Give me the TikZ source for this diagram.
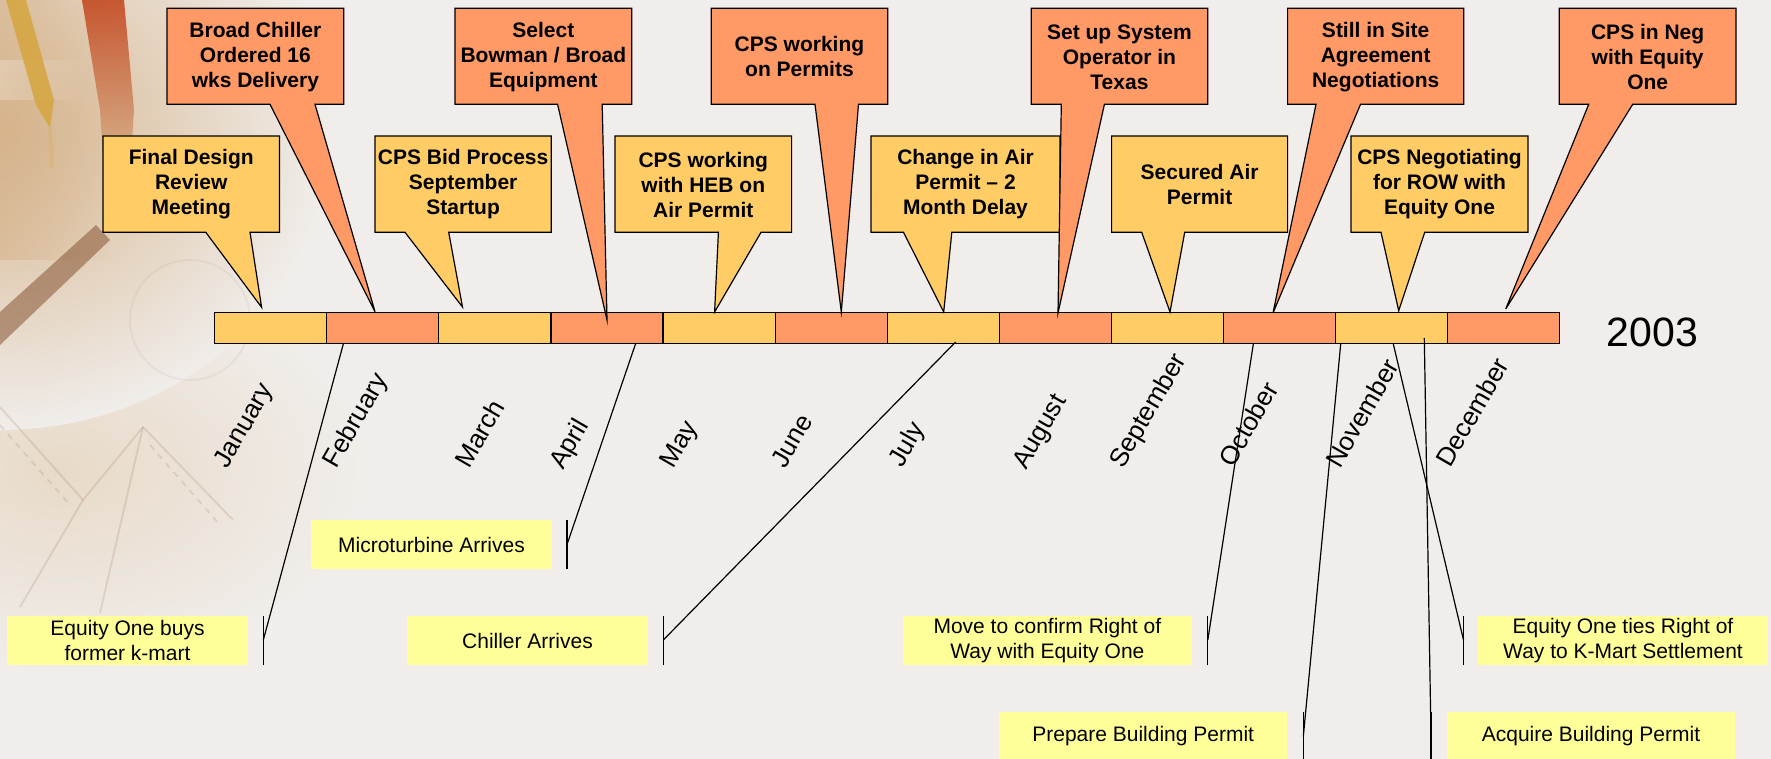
\documentclass[tikz,border=0pt]{standalone}
\usepackage{fontspec}
\setmainfont{Liberation Sans}
\setsansfont{Liberation Sans}
\usetikzlibrary{fadings}
\definecolor{bgc}{RGB}{240,237,234}
\definecolor{orangeC}{RGB}{255,153,102}
\definecolor{yellowC}{RGB}{255,204,102}
\definecolor{noteC}{RGB}{255,255,153}
\definecolor{tanC}{RGB}{214,180,140}
\definecolor{creamC}{RGB}{232,218,200}
\definecolor{redP}{RGB}{196,74,34}
\definecolor{yelP}{RGB}{214,165,62}
\definecolor{brownP}{RGB}{135,85,52}
\tikzfading[name=fadeR, left color=transparent!0, right color=transparent!100]
\tikzset{
  callout/.style={draw=black, line width=0.6pt, line join=miter},
  ctext/.style={align=center, font=\bfseries\fontsize{10.5}{12.5}\selectfont, inner sep=0pt},
  note/.style={fill=noteC, draw=none, align=center, inner sep=0pt, font=\fontsize{10.5}{12.35}\selectfont},
  seg/.style={draw=black, line width=0.6pt, minimum width=56.05pt, minimum height=15.5pt, inner sep=0pt},
  month/.style={rotate=60, anchor=base west, inner sep=0pt, font=\fontsize{13}{15}\selectfont},
  conn/.style={draw=black, line width=0.6pt},
  sketch/.style={draw=brownP, opacity=0.16, line width=0.9pt},
}
% top-row callout: name, x1, x2, base1, base2, tipx, tipy, text
\newcommand\coT[8]{%
  \coordinate (#1-tip) at (#6,#7);
  \filldraw[callout, fill=orangeC] (#2,8.3) -- (#3,8.3) -- (#3,104.3) -- (#5,104.3) -- (#1-tip) -- (#4,104.3) -- (#2,104.3) -- cycle;
  \node[ctext] (#1) at ({(#2+#3)/2},56.8) {#8};
}
% middle-row callout
\newcommand\coM[8]{%
  \coordinate (#1-tip) at (#6,#7);
  \filldraw[callout, fill=yellowC] (#2,136) -- (#3,136) -- (#3,232.3) -- (#5,232.3) -- (#1-tip) -- (#4,232.3) -- (#2,232.3) -- cycle;
  \node[ctext] (#1) at ({(#2+#3)/2},184.5) {#8};
}
% connector: name, topx, topy, tickx, ticktop, tickbot, joiny
\newcommand\conn[7]{%
  \coordinate (#1-a) at (#2,#3);
  \coordinate (#1-b) at (#4,#7);
  \coordinate (#1-t1) at (#4,#5);
  \coordinate (#1-t2) at (#4,#6);
  \draw[conn] (#1-a) -- (#1-b);
  \draw[conn] (#1-t1) -- (#1-t2);
}
\begin{document}
\begin{tikzpicture}[x=0.5pt,y=-0.5pt]
\useasboundingbox (0,0) rectangle (1771,759);
% background
\fill[bgc] (0,0) rectangle (1771,759);
\shade[inner color=creamC, outer color=bgc] (60,470) ellipse [x radius=300, y radius=200];
\shade[inner color=tanC, outer color=bgc] (0,130) ellipse [x radius=330, y radius=300];
\fill[tanC, opacity=0.6, path fading=fadeR] (0,0) rectangle (110,260);
\fill[white, opacity=0.25, path fading=fadeR] (0,60) rectangle (90,100);
\fill[yelP, opacity=0.85] (6,0) -- (26,0) -- (54,100) -- (50,128) -- (36,105) -- cycle;
\draw[yelP, opacity=0.2, line width=2pt] (50,128) -- (52,168);
\shade[top color=redP, bottom color=tanC, opacity=0.9] (82,0) -- (124,0) -- (134,110) -- (130,172) -- (104,172) -- (100,110) -- cycle;
\fill[brownP, opacity=0.55] (96,225) -- (110,240) -- (0,345) -- (0,312) -- cycle;
\draw[sketch] (0,407) -- (83,500) -- (143,427) -- (233,520);
\draw[sketch, dashed] (0,425) -- (70,505);
\draw[sketch, dashed] (150,445) -- (220,525);
\draw[sketch] (143,427) -- (100,613);
\draw[sketch] (83,500) -- (20,607);
\draw[sketch, opacity=0.07] (190,320) circle (60);

% timeline bar
\foreach \n [count=\i from 0] in {jan,feb,mar,apr,may,jun,jul,aug,sep,oct,nov,dec}{
  \pgfmathtruncatemacro\odd{mod(\i,2)}
  \ifnum\odd=0
    \node[seg, fill=yellowC] (\n) at ({214.6+112.1*(\i+0.5)},328) {};
  \else
    \node[seg, fill=orangeC] (\n) at ({214.6+112.1*(\i+0.5)},328) {};
  \fi
}
\node[font=\fontsize{20.5}{24}\selectfont, inner sep=0pt] (year) at (1652.5,332.5) {2003};

% month labels
\node[month] (lJan) at (227,470) {January};
\node[month] (lFeb) at (336,470) {February};
\node[month] (lMar) at (469,470) {March};
\node[month] (lApr) at (563,471) {April};
\node[month] (lMay) at (673,470) {May};
\node[month] (lJun) at (785,470) {June};
\node[month] (lJul) at (902,469) {July};
\node[month] (lAug) at (1026,471) {August};
\node[month] (lSep) at (1123,470) {September};
\node[month] (lOct) at (1233,469) {October};
\node[month] (lNov) at (1340,470) {November};
\node[month] (lDec) at (1450,469) {December};

% middle-row callouts
\coM{design}{103}{279.5}{205.8}{250}{261.6}{307.3}{Final Design\\Review\\Meeting}
\coM{bid}{375}{551.3}{405}{448.7}{462.5}{307}{CPS Bid Process\\September\\Startup}
\coM{heb}{615}{791.6}{718.4}{761}{714.6}{312}{CPS working\\with HEB on\\Air Permit}
\coM{change}{871}{1060}{903.5}{951.8}{943.7}{312}{Change in Air\\Permit – 2\\Month Delay}
\coM{secured}{1111.6}{1287.6}{1141.7}{1184.7}{1170}{312}{Secured Air\\Permit}
\coM{row}{1351}{1528}{1381}{1424.7}{1398.7}{310.7}{CPS Negotiating\\for ROW with\\Equity One}

% top-row callouts
\coT{bchill}{167}{343.8}{270}{315}{375}{311.7}{Broad Chiller\\Ordered 16\\wks Delivery}
\coT{bowman}{455}{631.7}{557.6}{602.2}{607}{320}{Select\\Bowman / Broad\\Equipment}
\coT{permits}{711.2}{887.7}{815}{858.5}{841.3}{312}{CPS working\\on Permits}
\coT{sysop}{1031.2}{1207.7}{1061.3}{1104.4}{1058}{313}{Set up System\\Operator in\\Texas}
\coT{site}{1287.6}{1463.7}{1316}{1360.5}{1273}{313}{Still in Site\\Agreement\\Negotiations}
\coT{neg}{1559.3}{1736}{1588.7}{1632.7}{1505.7}{309}{CPS in Neg\\with Equity\\One}

% notes
\node[note, minimum width=120.2pt, minimum height=24.5pt] (eqbuys) at (127.5,640.5) {Equity One buys\\former k-mart};
\node[note, minimum width=120.5pt, minimum height=24.5pt] (micro) at (431.5,544.5) {Microturbine Arrives};
\node[note, minimum width=120.2pt, minimum height=24.5pt] (chiller) at (527.5,640.5) {Chiller Arrives};
\node[note, minimum width=144.65pt, minimum height=24.5pt] (move) at (1047.35,640.5) {Move to confirm Right of\\Way with Equity One};
\node[note, minimum width=145pt, minimum height=24.5pt] (ties) at (1623,640.5) {Equity One ties Right of\\Way to K-Mart Settlement};
\node[note, minimum width=144.2pt, minimum height=24pt] (prepare) at (1143.2,736) {Prepare Building Permit};
\node[note, minimum width=144pt, minimum height=24pt] (acquire) at (1591,736) {Acquire Building Permit};

% connectors
\conn{cEq}{343.3}{344}{263.3}{616}{665}{640}
\conn{cMi}{635.5}{344}{567}{520}{569}{544.5}
\conn{cCh}{955.6}{342}{663.3}{616}{665}{640}
\conn{cMo}{1253.3}{344}{1207.8}{616}{665}{640}
\conn{cPr}{1340.7}{344}{1303.3}{712}{760}{736.5}
\conn{cTi}{1393.3}{344}{1463.5}{616}{665}{640}
\conn{cAc}{1424.3}{338}{1431}{712}{760}{736.5}
\end{tikzpicture}
\end{document}
